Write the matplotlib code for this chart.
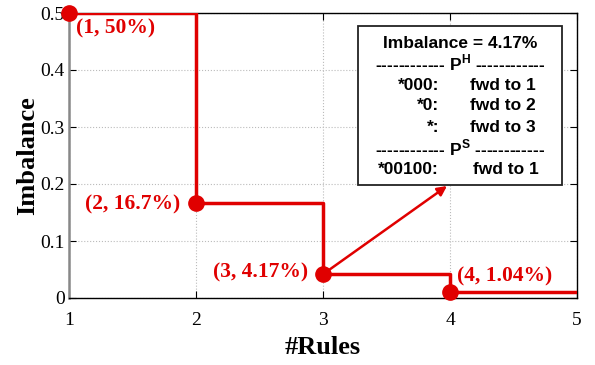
import matplotlib
matplotlib.use("Agg")
import matplotlib.pyplot as plt
from matplotlib.patches import Rectangle

# data
rules = [1, 2, 3, 4, 5]
imbalance = [0.5, 0.167, 0.0417, 0.0104, 0.0104]
point_labels = ["(1, 50%)", "(2, 16.7%)", "(3, 4.17%)", "(4, 1.04%)"]
label_offsets = [(5, -11), (-11, -1), (-11, 1), (5, 11)]
label_ha = ["left", "right", "right", "left"]
box_title = "Imbalance = 4.17%"
ph_rules = ["*000:", "*0:", "*:"]
ph_actions = ["fwd to 1", "fwd to 2", "fwd to 3"]
ps_rules = ["*00100:"]
ps_actions = ["fwd to 1"]

red = "#e00000"
plt.rcParams["font.family"] = ["Liberation Serif", "DejaVu Serif"]
plt.rcParams["mathtext.fontset"] = "custom"
plt.rcParams["mathtext.rm"] = "Liberation Sans"
plt.rcParams["mathtext.bf"] = "Liberation Sans:bold"

fig = plt.figure(figsize=(5.95, 3.65), dpi=100)
ax = fig.add_axes([69/595, 1-298/365, 508/595, 285/365])

ax.step(rules, imbalance, where="post", color=red, lw=2.5, zorder=3)
ax.plot(rules[:4], imbalance[:4], "o", color=red, ms=11, zorder=4, clip_on=False)

for x, y, t, off, ha in zip(rules, imbalance, point_labels, label_offsets, label_ha):
    ax.annotate(t, xy=(x, y), xytext=off, textcoords="offset points",
                ha=ha, va="center", color=red, fontsize=15.5, fontweight="bold")

ax.set_xlim(1, 5)
ax.set_ylim(0, 0.5)
ax.set_xticks([1, 2, 3, 4, 5])
ax.set_yticks([0, 0.1, 0.2, 0.3, 0.4, 0.5])
ax.set_yticklabels(["0", "0.1", "0.2", "0.3", "0.4", "0.5"])
ax.tick_params(direction="in", top=True, right=True, length=5, labelsize=14)
ax.tick_params(axis="x", pad=10)
ax.tick_params(axis="y", pad=3)
ax.grid(True, ls=":", color="#bbbbbb", lw=0.8)
for s in ax.spines.values():
    s.set_linewidth(1.0)
ax.spines["left"].set_color("#888888")
ax.spines["left"].set_linewidth(1.8)

ax.set_xlabel("#Rules", fontsize=19, fontweight="bold", labelpad=5)
ax.set_ylabel("Imbalance", fontsize=19, fontweight="bold", labelpad=1)

# info box, in axes fraction
def fx(px):
    return (px - 69) / 508

def fy(py):
    return (298 - py) / 285

bl, br, bt, bb = fx(358), fx(562), fy(26), fy(185)
ax.add_patch(Rectangle((bl, bb), br - bl, bt - bb, transform=ax.transAxes,
                       facecolor="white", edgecolor="#222222", lw=1.3, zorder=5))

sans = dict(family=["Liberation Sans", "DejaVu Sans"], fontweight="bold",
            fontsize=12.5, zorder=6, transform=ax.transAxes, va="center")
ax.text(fx(460), fy(43), box_title, ha="center", **sans)
ax.text(fx(460), fy(63), "------------ $\\mathbf{P}^{\\mathbf{H}}$ ------------", ha="center", **sans)
for i, (r, a) in enumerate(zip(ph_rules, ph_actions)):
    y = 85 + 21 * i
    ax.text(fx(439), fy(y), r, ha="right", **sans)
    ax.text(fx(470), fy(y), a, ha="left", **sans)
ax.text(fx(460), fy(148), "------------ $\\mathbf{P}^{\\mathbf{S}}$ ------------", ha="center", **sans)
for i, (r, a) in enumerate(zip(ps_rules, ps_actions)):
    y = 170 + 21 * i
    ax.text(fx(439), fy(y), r, ha="right", **sans)
    ax.text(fx(473), fy(y), a, ha="left", **sans)

ax.annotate("", xy=(fx(447), fy(186)), xycoords="axes fraction",
            xytext=(rules[2], imbalance[2]), textcoords="data",
            arrowprops=dict(arrowstyle="-|>", color=red, lw=1.8, mutation_scale=14,
                            shrinkA=0, shrinkB=0), zorder=6)

fig.savefig("out.png", dpi=100)
